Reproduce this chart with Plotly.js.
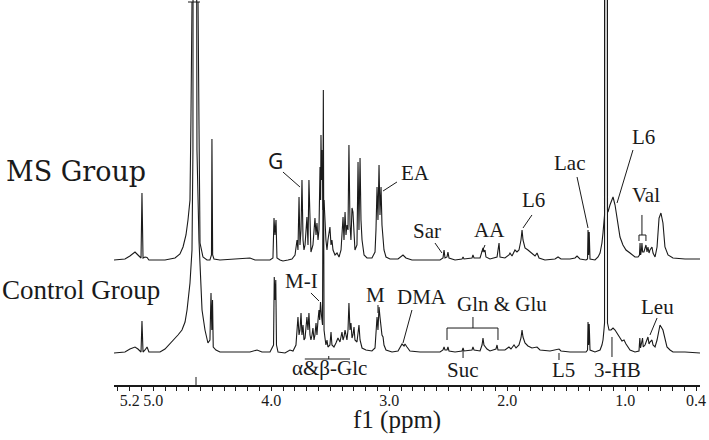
<!DOCTYPE html>
<html>
<head>
<meta charset="utf-8">
<script src="https://cdn.plot.ly/plotly-3.0.1.min.js"></script>
<style>
html,body{margin:0;padding:0;background:#fff;}
#chart{width:709px;height:440px;}
</style>
</head>
<body>
<div id="chart"></div>
<script>
// Chemical shift axis ticks
var tickValues = [5.2, 5.0, 4.0, 3.0, 2.0, 1.0, 0.4];
var tickLabels = ["5.2", "5.0", "4.0", "3.0", "2.0", "1.0", "0.4"];
var waterTickPpm = 4.638;

// MS Group spectrum (ppm, relative intensity)
var msPpm = [5.333,5.240,5.198,5.155,5.130,5.104,5.096,5.087,5.070,5.053,5.037,4.901,4.816,4.774,4.748,4.723,4.706,4.689,4.681,4.672,4.706,4.604,4.621,4.613,4.604,4.579,4.545,4.520,4.507,4.503,4.497,4.486,4.435,4.181,4.138,4.011,3.986,3.977,3.969,3.960,3.952,3.926,3.901,3.859,3.825,3.799,3.782,3.774,3.765,3.757,3.748,3.740,3.731,3.723,3.714,3.698,3.689,3.681,3.672,3.664,3.647,3.638,3.630,3.621,3.613,3.604,3.596,3.587,3.582,3.579,3.574,3.568,3.562,3.553,3.545,3.537,3.528,3.520,3.503,3.494,3.486,3.477,3.460,3.443,3.426,3.409,3.392,3.384,3.375,3.367,3.359,3.350,3.342,3.333,3.325,3.316,3.308,3.299,3.291,3.274,3.265,3.257,3.248,3.240,3.231,3.214,3.189,3.147,3.121,3.113,3.104,3.096,3.087,3.079,3.070,3.062,3.053,3.045,3.028,2.994,2.926,2.884,2.859,2.808,2.570,2.545,2.536,2.528,2.511,2.503,2.494,2.443,2.384,2.375,2.367,2.299,2.291,2.282,2.231,2.214,2.206,2.198,2.189,2.181,2.147,2.087,2.070,2.062,2.020,1.986,1.977,1.960,1.943,1.935,1.918,1.901,1.884,1.875,1.867,1.850,1.825,1.791,1.765,1.748,1.731,1.681,1.596,1.570,1.545,1.469,1.426,1.409,1.384,1.333,1.320,1.316,1.311,1.306,1.299,1.257,1.231,1.214,1.198,1.189,1.181,1.176,1.172,1.155,1.151,1.147,1.130,1.104,1.087,1.070,1.045,1.020,0.994,0.960,0.918,0.892,0.880,0.875,0.870,0.863,0.859,0.853,0.842,0.825,0.816,0.808,0.799,0.791,0.774,0.765,0.748,0.731,0.723,0.714,0.698,0.681,0.664,0.638,0.596,0.494,0.367];
var msInt = [0,1,4,8,5,2,67,2,3,2.5,0,0,2,6,13,25,40,60,140,258,258,258,258,140,17,3,0,0,5,121,5,1,0,2,0,0,2,42,25,40,2,0,-1,0,1,5,20,10,63,15,30,80,20,10,15,43,15,80,20,8,15,30,42,25,37,20,30,93,60,125,80,110,50,60,37,20,10,20,33,15,20,10,5,7,3,10,43,20,48,25,35,30,115,35,20,52,48,20,10,15,98,30,102,40,20,5,2,2,8,30,73,40,95,45,73,35,25,10,3,1,1,5,2,0,0,2,10,2,3,8,2,0,1,3,1,2,5,2,2,10,12,8,10,3,1,3,17,3,2,5,7,4,8,10,8,10,20,30,20,12,10,7,4,7,2,0,1,3,1,1,2,4,1,0,1,30,5,28,1,0,3,7,17,27,40,45,2000,2000,50,48,55,63,55,43,23,15,10,7,3,3,5,17,5,10,17,8,8,15,8,13,7,10,13,7,3,13,30,42,47,37,13,5,2,1,1];

// Control Group spectrum (ppm, relative intensity)
var ctrlPpm = [5.333,5.240,5.198,5.155,5.130,5.104,5.096,5.087,5.070,5.053,5.037,4.943,4.901,4.859,4.833,4.791,4.757,4.731,4.714,4.698,4.689,4.672,4.664,4.655,4.638,4.630,4.613,4.604,4.587,4.562,4.537,4.520,4.511,4.504,4.498,4.492,4.469,4.435,4.181,4.121,4.079,4.011,3.981,3.975,3.969,3.962,3.956,3.943,3.884,3.842,3.816,3.791,3.782,3.774,3.765,3.757,3.748,3.740,3.731,3.723,3.714,3.706,3.698,3.689,3.681,3.672,3.664,3.655,3.647,3.638,3.630,3.621,3.613,3.604,3.596,3.590,3.583,3.575,3.566,3.559,3.553,3.545,3.537,3.528,3.520,3.503,3.494,3.486,3.469,3.452,3.435,3.418,3.401,3.392,3.384,3.375,3.367,3.359,3.350,3.342,3.333,3.325,3.316,3.308,3.299,3.291,3.274,3.257,3.248,3.231,3.198,3.147,3.121,3.113,3.104,3.096,3.087,3.079,3.070,3.062,3.053,3.045,3.028,2.977,2.926,2.909,2.892,2.875,2.867,2.850,2.825,2.740,2.570,2.545,2.536,2.528,2.511,2.503,2.494,2.443,2.384,2.375,2.367,2.299,2.291,2.282,2.231,2.214,2.206,2.198,2.172,2.147,2.096,2.087,2.079,2.020,1.994,1.986,1.969,1.943,1.926,1.901,1.884,1.875,1.867,1.850,1.825,1.791,1.748,1.723,1.638,1.579,1.562,1.545,1.469,1.333,1.320,1.316,1.311,1.306,1.299,1.257,1.214,1.198,1.189,1.181,1.176,1.172,1.155,1.151,1.138,1.121,1.104,1.087,1.070,1.045,1.028,1.011,0.994,0.960,0.918,0.884,0.877,0.871,0.854,0.848,0.833,0.808,0.799,0.791,0.774,0.765,0.748,0.731,0.714,0.706,0.681,0.664,0.647,0.621,0.596,0.494,0.367];
var ctrlInt = [0,1,4,6,4,1,32,1,3,6,1,1,4,9,13,18,23,31,43,58,70,103,203,2000,2000,203,113,86,43,23,10,13,60,23,53,6,3,1,1,3,1,1,8,76,53,73,8,1,0,3,2,8,23,36,18,23,40,18,28,13,15,23,36,23,40,18,13,18,25,13,18,30,18,33,43,33,51,38,28,263,23,15,8,13,6,8,21,8,6,10,15,11,21,13,16,23,15,13,23,50,23,30,15,18,26,13,11,28,13,5,3,2,5,18,36,23,46,36,23,18,16,8,3,1,2,6,9,7,9,6,2,1,1,3,6,3,3,6,2,1,2,5,2,3,6,3,2,8,15,8,4,2,4,8,3,3,5,6,4,8,5,8,15,23,16,10,7,5,6,3,2,3,4,2,1,1,3,31,8,29,3,1,3,8,13,23,30,2000,2000,30,23,23,25,23,20,15,12,13,9,3,1,2,15,5,15,6,8,16,9,11,13,8,6,13,23,28,23,13,6,3,1,1,0];

var ink = "#1a1a1a";
var fam = "Liberation Serif";

function lbl(text, x, y, size, xref, family) {
  return {text: text, x: x, y: y, xref: xref || "x", yref: "paper", showarrow: false,
          xanchor: "center", yanchor: "middle",
          font: {family: family || fam, size: size || 21, color: ink}};
}
function seg(x0, y0, x1, y1) {
  return {type: "line", xref: "x", yref: "paper", x0: x0, y0: y0, x1: x1, y1: y1,
          line: {color: ink, width: 1}};
}

var traces = [
  {x: ctrlPpm, y: ctrlInt, type: "scatter", mode: "lines", yaxis: "y",
   line: {color: ink, width: 1.1}, hoverinfo: "skip", name: "Control Group"},
  {x: msPpm, y: msInt, type: "scatter", mode: "lines", yaxis: "y2",
   line: {color: ink, width: 1.1}, hoverinfo: "skip", name: "MS Group"}
];

var annos = [
  lbl("MS Group", -0.0648, 0.5558, 27, "paper", "DejaVu Serif"),
  lbl("Control Group", -0.0563, 0.2468, 27, "paper", "Liberation Serif"),
  lbl("G", 3.964, 0.5818, 21, "x", "Noto Sans"),
  lbl("EA", 2.774, 0.5506),
  lbl("L6", 0.842, 0.6442),
  lbl("Lac", 1.469, 0.5766),
  lbl("L6", 1.782, 0.4805),
  lbl("Val", 0.825, 0.4935),
  lbl("Sar", 2.681, 0.400),
  lbl("AA", 2.147, 0.4026),
  lbl("M-I", 3.740, 0.2701),
  lbl("M", 3.113, 0.2338),
  lbl("DMA", 2.723, 0.2286),
  lbl("Gln &amp; Glu", 2.045, 0.2104),
  lbl("Suc", 2.375, 0.039),
  lbl("L5", 1.520, 0.039),
  lbl("3-HB", 1.062, 0.039),
  lbl("Leu", 0.723, 0.2026),
  lbl("&#945;&amp;&#946;-Glc", 3.503, 0.0442),
  lbl("f1 (ppm)", 2.935, -0.09, 25)
];

var segs = [
  seg(waterTickPpm, 0, waterTickPpm, 0.0208),
  seg(3.901, 0.5532, 3.757, 0.5143),
  seg(3.053, 0.5039, 2.935, 0.5273),
  seg(0.935, 0.6104, 1.070, 0.4727),
  seg(1.409, 0.5403, 1.316, 0.4078),
  seg(1.791, 0.4416, 1.867, 0.4078),
  seg(0.859, 0.4416, 0.859, 0.3896),
  seg(0.884, 0.3896, 0.825, 0.3896),
  seg(0.884, 0.3896, 0.884, 0.374),
  seg(0.825, 0.3896, 0.825, 0.374),
  seg(2.613, 0.3688, 2.554, 0.3429),
  seg(2.189, 0.3636, 2.214, 0.3455),
  seg(3.664, 0.239, 3.596, 0.2182),
  seg(3.096, 0.2078, 3.096, 0.187),
  seg(2.808, 0.1948, 2.884, 0.1091),
  seg(2.291, 0.1766, 2.291, 0.148),
  seg(2.511, 0.148, 2.079, 0.148),
  seg(2.511, 0.148, 2.511, 0.1169),
  seg(2.079, 0.148, 2.079, 0.1169),
  seg(2.375, 0.0909, 2.375, 0.0701),
  seg(1.562, 0.0831, 1.562, 0.0649),
  seg(1.113, 0.1247, 1.113, 0.0727),
  seg(0.731, 0.174, 0.791, 0.1299),
  seg(3.716, 0.0675, 3.333, 0.0675),
  seg(3.513, 0.0675, 3.513, 0.0753)
];

var layout = {
  width: 709, height: 440,
  margin: {l: 114, r: 9, t: 0, b: 55},
  paper_bgcolor: "#ffffff", plot_bgcolor: "#ffffff",
  showlegend: false,
  font: {family: fam, size: 16, color: ink},
  xaxis: {
    range: [5.333, 0.367], autorange: false,
    showline: true, linecolor: ink, linewidth: 1.5,
    ticks: "",
    tickmode: "array", tickvals: tickValues, ticktext: tickLabels,
    tickfont: {family: fam, size: 16, color: ink},
    showgrid: false, zeroline: false,
    minor: {ticks: "outside", ticklen: 4, tickwidth: 1, tickcolor: ink, dtick: 0.1, tick0: 0, showgrid: false}
  },
  yaxis: {range: [-32, 353], visible: false, showgrid: false, zeroline: false, fixedrange: true},
  yaxis2: {range: [-125, 260], overlaying: "y", visible: false, showgrid: false, zeroline: false, fixedrange: true},
  annotations: annos,
  shapes: segs
};

Plotly.newPlot("chart", traces, layout, {staticPlot: true});
</script>
</body>
</html>
